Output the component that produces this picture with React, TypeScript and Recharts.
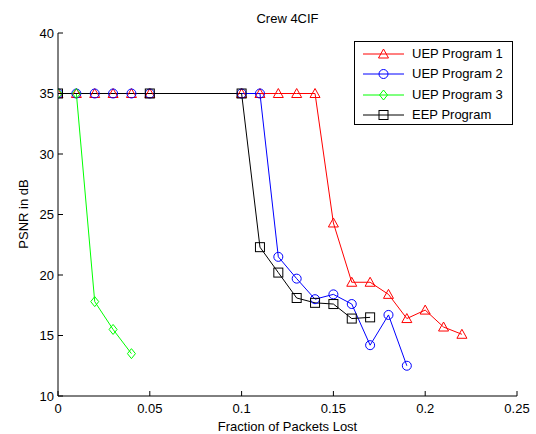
import React from 'react';
import { LineChart, Line, XAxis, YAxis } from 'recharts';

const xTicks = [0, 0.05, 0.1, 0.15, 0.2, 0.25];
const yTicks = [10, 15, 20, 25, 30, 35, 40];

const uep1X = [0, 0.01, 0.02, 0.03, 0.04, 0.05, 0.1, 0.11, 0.12, 0.13, 0.14, 0.15, 0.16, 0.17, 0.18, 0.19, 0.2, 0.21, 0.22];
const uep1Y = [35, 35, 35, 35, 35, 35, 35, 35, 35, 35, 35, 24.3, 19.4, 19.4, 18.4, 16.4, 17.1, 15.7, 15.1];

const uep2X = [0, 0.01, 0.02, 0.03, 0.04, 0.05, 0.1, 0.11, 0.12, 0.13, 0.14, 0.15, 0.16, 0.17, 0.18, 0.19];
const uep2Y = [35, 35, 35, 35, 35, 35, 35, 35, 21.5, 19.7, 18.0, 18.4, 17.6, 14.2, 16.7, 12.5];

const uep3X = [0, 0.01, 0.02, 0.03, 0.04];
const uep3Y = [35, 35, 17.8, 15.5, 13.5];

const eepX = [0, 0.05, 0.1, 0.11, 0.12, 0.13, 0.14, 0.15, 0.16, 0.17];
const eepY = [35, 35, 35, 22.3, 20.2, 18.1, 17.7, 17.6, 16.4, 16.5];

const zip = (xs: number[], ys: number[]) => xs.map((x, i) => ({ x, y: ys[i] }));

const uep1 = zip(uep1X, uep1Y);
const uep2 = zip(uep2X, uep2Y);
const uep3 = zip(uep3X, uep3Y);
const eep = zip(eepX, eepY);

const FONT = '"Liberation Sans", Arial, sans-serif';
const FS = 13;

const Tri = ({ cx, cy, c }: any) => (
  <path d={`M${cx - 5},${cy + 4} L${cx + 5},${cy + 4} L${cx},${cy - 5} Z`} fill="none" stroke={c} strokeWidth={1} />
);
const Circ = ({ cx, cy, c }: any) => <circle cx={cx} cy={cy} r={4.5} fill="none" stroke={c} strokeWidth={1} />;
const Dia = ({ cx, cy, c }: any) => (
  <path d={`M${cx},${cy - 5} L${cx + 4},${cy} L${cx},${cy + 5} L${cx - 4},${cy} Z`} fill="none" stroke={c} strokeWidth={1} />
);
const Sq = ({ cx, cy, c }: any) => (
  <rect x={cx - 4.5} y={cy - 4.5} width={9} height={9} fill="none" stroke={c} strokeWidth={1} />
);

const mkDot = (Shape: any, c: string) => (p: any) => <Shape key={p.index} cx={p.cx} cy={p.cy} c={c} />;

const BottomTick = (p: any) => (
  <g>
    <line x1={p.x} y1={p.y} x2={p.x} y2={p.y - 5} stroke="#000" />
    <text x={p.x} y={p.y + 17} textAnchor="middle" fontSize={FS} fontFamily={FONT} fill="#000">
      {String(p.payload.value)}
    </text>
  </g>
);
const TopTick = (p: any) => (
  <g>
    <line x1={p.x} y1={p.y} x2={p.x} y2={p.y + 5} stroke="#000" />
  </g>
);
const LeftTick = (p: any) => (
  <g>
    <line x1={p.x} y1={p.y} x2={p.x + 5} y2={p.y} stroke="#000" />
    <text x={p.x - 4} y={p.y + 4.5} textAnchor="end" fontSize={FS} fontFamily={FONT} fill="#000">
      {String(p.payload.value)}
    </text>
  </g>
);
const RightTick = (p: any) => (
  <g>
    <line x1={p.x} y1={p.y} x2={p.x - 5} y2={p.y} stroke="#000" />
  </g>
);

const legendItems = [
  { name: 'UEP Program 1', c: '#ff0000', S: Tri },
  { name: 'UEP Program 2', c: '#0000ff', S: Circ },
  { name: 'UEP Program 3', c: '#00ff00', S: Dia },
  { name: 'EEP Program', c: '#000000', S: Sq },
];

export default function App() {
  return (
    <div style={{ position: 'absolute', left: 0, top: 0, width: 536, height: 434, background: '#fff', fontFamily: FONT }}>
      <LineChart width={536} height={434} data={uep1} margin={{ top: 33, right: 19, bottom: 0, left: 8 }}>
        <XAxis
          xAxisId={0}
          dataKey="x"
          type="number"
          domain={[0, 0.25]}
          ticks={xTicks}
          allowDataOverflow
          height={38}
          tickSize={0}
          tickMargin={0}
          tickLine={false}
          tick={<BottomTick />}
          axisLine={{ stroke: '#000' }}
        />
        <XAxis
          xAxisId="top"
          orientation="top"
          dataKey="x"
          type="number"
          domain={[0, 0.25]}
          ticks={xTicks}
          allowDataOverflow
          height={0}
          tickSize={0}
          tickMargin={0}
          tickLine={false}
          tick={<TopTick />}
          axisLine={{ stroke: '#000' }}
        />
        <YAxis
          yAxisId={0}
          type="number"
          domain={[10, 40]}
          ticks={yTicks}
          allowDataOverflow
          width={50}
          tickSize={0}
          tickMargin={0}
          tickLine={false}
          tick={<LeftTick />}
          axisLine={{ stroke: '#000' }}
        />
        <YAxis
          yAxisId="right"
          orientation="right"
          type="number"
          domain={[10, 40]}
          ticks={yTicks}
          allowDataOverflow
          width={0}
          tickSize={0}
          tickMargin={0}
          tickLine={false}
          tick={<RightTick />}
          axisLine={{ stroke: '#000' }}
        />
        <Line data={uep1} dataKey="y" stroke="#ff0000" strokeWidth={1} dot={mkDot(Tri, '#ff0000')} activeDot={false} isAnimationActive={false} />
        <Line data={uep2} dataKey="y" stroke="#0000ff" strokeWidth={1} dot={mkDot(Circ, '#0000ff')} activeDot={false} isAnimationActive={false} />
        <Line data={uep3} dataKey="y" stroke="#00ff00" strokeWidth={1} dot={mkDot(Dia, '#00ff00')} activeDot={false} isAnimationActive={false} />
        <Line data={eep} dataKey="y" stroke="#000000" strokeWidth={1} dot={mkDot(Sq, '#000000')} activeDot={false} isAnimationActive={false} />
      </LineChart>
      <div style={{ position: 'absolute', left: 58, width: 459, top: 11, textAlign: 'center', fontSize: FS, lineHeight: '16px' }}>Crew 4CIF</div>
      <div style={{ position: 'absolute', left: 58, width: 459, top: 419, textAlign: 'center', fontSize: FS, lineHeight: '16px' }}>Fraction of Packets Lost</div>
      <div
        style={{
          position: 'absolute',
          left: 24 - 60,
          top: 214 - 8,
          width: 120,
          height: 16,
          lineHeight: '16px',
          textAlign: 'center',
          fontSize: FS,
          transform: 'rotate(-90deg)',
        }}
      >
        PSNR in dB
      </div>
      <div
        style={{
          position: 'absolute',
          left: 354,
          top: 41,
          width: 157,
          height: 82,
          border: '1px solid #000',
          background: '#fff',
        }}
      >
        {legendItems.map((it, i) => (
          <div key={it.name} style={{ position: 'absolute', left: 0, top: 3 + i * 20.3, height: 18, width: 157 }}>
            <svg width={50} height={18} style={{ position: 'absolute', left: 8, top: 0 }}>
              <line x1={0} y1={9} x2={41} y2={9} stroke={it.c} strokeWidth={1} />
              <it.S cx={20.5} cy={9} c={it.c} />
            </svg>
            <span style={{ position: 'absolute', left: 57, top: 0, lineHeight: '18px', fontSize: FS, whiteSpace: 'nowrap' }}>{it.name}</span>
          </div>
        ))}
      </div>
    </div>
  );
}
